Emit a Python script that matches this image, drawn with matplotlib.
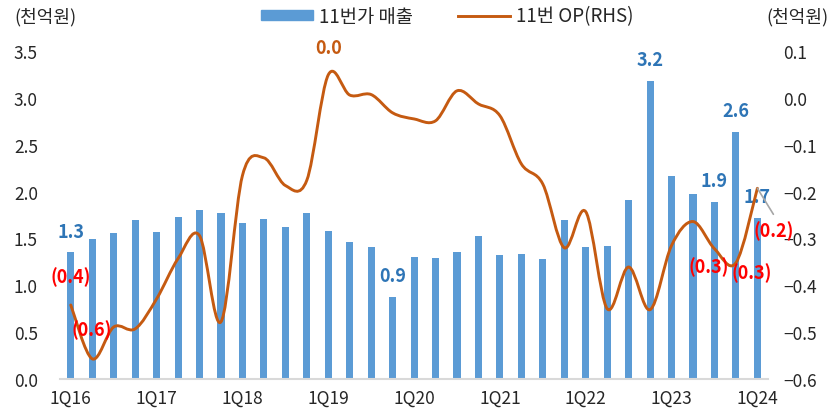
import numpy as np
import matplotlib.pyplot as plt
from matplotlib.path import Path
from matplotlib.patches import PathPatch, Patch
from matplotlib.lines import Line2D

plt.rcParams['font.family'] = ['Noto Sans CJK KR', 'DejaVu Sans']

# 분기: 1Q16 ~ 1Q24
quarters = ['1Q16', '2Q16', '3Q16', '4Q16', '1Q17', '2Q17', '3Q17', '4Q17',
            '1Q18', '2Q18', '3Q18', '4Q18', '1Q19', '2Q19', '3Q19', '4Q19',
            '1Q20', '2Q20', '3Q20', '4Q20', '1Q21', '2Q21', '3Q21', '4Q21',
            '1Q22', '2Q22', '3Q22', '4Q22', '1Q23', '2Q23', '3Q23', '4Q23',
            '1Q24']
tick_quarters = ['1Q16', '1Q17', '1Q18', '1Q19', '1Q20', '1Q21', '1Q22', '1Q23', '1Q24']

# 11번가 매출 (천억원, LHS)
sales = [1.35, 1.49, 1.56, 1.70, 1.57, 1.73, 1.80, 1.77,
         1.66, 1.71, 1.62, 1.77, 1.58, 1.46, 1.41, 0.88,
         1.30, 1.29, 1.36, 1.53, 1.32, 1.33, 1.28, 1.70,
         1.41, 1.42, 1.91, 3.18, 2.17, 1.97, 1.89, 2.64,
         1.72]

# 11번 OP (천억원, RHS)
op = [-0.442, -0.557, -0.489, -0.493, -0.429, -0.343, -0.294, -0.478,
      -0.166, -0.128, -0.187, -0.176, 0.049, 0.006, 0.007, -0.032,
      -0.045, -0.049, 0.015, -0.013, -0.038, -0.141, -0.184, -0.320,
      -0.243, -0.450, -0.361, -0.452, -0.315, -0.264, -0.322, -0.352,
      -0.193]

left_ticks = [0.0, 0.5, 1.0, 1.5, 2.0, 2.5, 3.0, 3.5]
left_labels = ['0.0', '0.5', '1.0', '1.5', '2.0', '2.5', '3.0', '3.5']
right_ticks = [-0.6, -0.5, -0.4, -0.3, -0.2, -0.1, 0.0, 0.1]
right_labels = ['\u22120.6', '\u22120.5', '\u22120.4', '\u22120.3', '\u22120.2', '\u22120.1', '0.0', '0.1']

# 데이터 레이블 (index, text)
sales_labels = [(0, '1.3'), (15, '0.9'), (27, '3.2'), (30, '1.9'), (31, '2.6'), (32, '1.7')]
op_labels = [(0, '(0.4)', 0, 29), (1, '(0.6)', -1, 30), (12, '0.0', 0, 27),
             (30, '(0.3)', -6, -17), (31, '(0.3)', 16, -9), (32, '(0.2)', 16, -42)]

bar_color = '#5b9bd5'
line_color = '#c55a11'

fig = plt.figure(figsize=(8.35, 4.14), dpi=100)
ax = fig.add_axes([0.0719, 0.0821, 0.848, 0.7923])
ax2 = ax.twinx()

x = np.arange(len(quarters))
ax.bar(x, sales, width=0.33, color=bar_color, zorder=2)
ax.set_xlim(-0.5, len(quarters) - 0.5)
ax.set_ylim(0, 3.5)
ax.set_yticks(left_ticks, left_labels)
ax.set_xticks([quarters.index(q) for q in tick_quarters], tick_quarters)
ax.tick_params(axis='y', length=0, pad=16, labelsize=12.5, colors='#262626')
ax.tick_params(axis='x', length=0, pad=7, labelsize=12.5, colors='#262626')
for s in ['left', 'right', 'top']:
    ax.spines[s].set_visible(False)
ax.spines['bottom'].set_color('#d9d9d9')
ax.spines['bottom'].set_linewidth(1.5)

# 평활 곡선 (Excel 스타일 베지어)
pts = np.column_stack([x, op]).astype(float)
n = len(pts)
verts = [pts[0]]
codes = [Path.MOVETO]
for i in range(n - 1):
    p0 = pts[max(i - 1, 0)]
    p1 = pts[i]
    p2 = pts[i + 1]
    p3 = pts[min(i + 2, n - 1)]
    c1 = p1 + (p2 - p0) / 6
    c2 = p2 - (p3 - p1) / 6
    verts += [c1, c2, p2]
    codes += [Path.CURVE4] * 3
ax2.add_patch(PathPatch(Path(verts, codes), fill=False, edgecolor=line_color,
                        linewidth=2.1, capstyle='round', joinstyle='round', zorder=3))
ax2.set_ylim(-0.6, 0.1)
ax2.set_yticks(right_ticks, right_labels)
ax2.tick_params(axis='y', length=0, pad=11, labelsize=12.5, colors='#262626')
for s in ax2.spines.values():
    s.set_visible(False)

for i, t in sales_labels:
    ax.annotate(t, (x[i], sales[i]), xytext=(0, 21), textcoords='offset pixels',
                ha='center', va='center', fontsize=13, fontweight='bold',
                color='#2e75b6', zorder=4)

for i, t, dx, dy in op_labels:
    c = line_color if t == '0.0' else '#ff0000'
    ax2.annotate(t, (x[i], op[i]), xytext=(dx, dy), textcoords='offset pixels',
                 ha='center', va='center', fontsize=13, fontweight='bold',
                 color=c, zorder=5)

# (0.2) 지시선
ax2.annotate('', (x[32], op[32]), xytext=(16, -26), textcoords='offset pixels',
             arrowprops=dict(arrowstyle='-', color='#a6a6a6', lw=1.2, shrinkA=0, shrinkB=0))

fig.text(14 / 835, 1 - 17 / 414, '(천억원)', ha='left', va='center', fontsize=13, color='#262626')
fig.text(828 / 835, 1 - 17 / 414, '(천억원)', ha='right', va='center', fontsize=13, color='#262626')

handles = [Patch(color=bar_color), Line2D([], [], color=line_color, lw=2.1)]
fig.legend(handles, ['11번가 매출', '11번 OP(RHS)'], loc='center',
           bbox_to_anchor=(447 / 835, 1 - 17 / 414), ncol=2, frameon=False,
           fontsize=13.5, handlelength=2.8, handleheight=0.45, handletextpad=0.3,
           columnspacing=2.4, labelcolor='#262626')

fig.savefig('out.png', dpi=100)
